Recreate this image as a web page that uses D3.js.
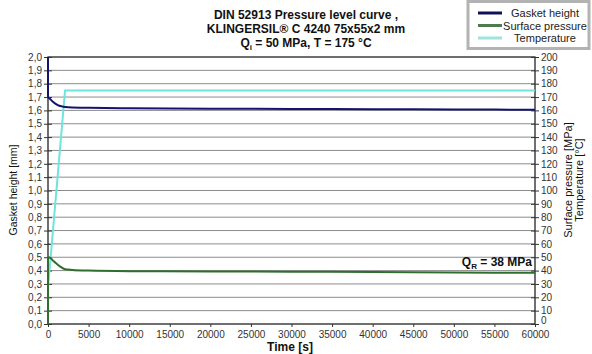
<!DOCTYPE html>
<html lang="en">
<head>
<meta charset="utf-8">
<title>DIN 52913 Pressure level curve</title>
<script src="https://d3js.org/d3.v7.min.js"></script>
<style>
  body { margin: 0; background: #fff; font-family: 'Liberation Sans', Arial, sans-serif; }
  svg { display: block; }
  .tick text { font-size: 10px; fill: #333; }
  .grid line { stroke: #8c8c8c; stroke-width: 1; }
  .title { font-size: 12px; font-weight: bold; fill: #111; }
  .label { font-size: 10.5px; fill: #111; }
  .legend text { font-size: 11px; fill: #222; }
</style>
</head>
<body>
<svg width="592" height="354"></svg>
<script>
// gasket height [mm]
const gasketTime = [0, 0, 200, 600, 1200, 1700, 2100, 3000, 5000, 10000, 20000, 30000, 40000, 50000, 60000];
const gasketHeight = [2.0, 1.70, 1.69, 1.665, 1.64, 1.63, 1.625, 1.621, 1.619, 1.616, 1.613, 1.611, 1.609, 1.607, 1.605];

// surface pressure [MPa]
const pressureTime = [0, 0, 300, 600, 1000, 1500, 2100, 3000, 5000, 10000, 20000, 30000, 40000, 50000, 60000];
const pressure = [0, 50, 49.5, 47.5, 45.5, 43, 41, 40.5, 40, 39.6, 39.4, 39.2, 38.9, 38.6, 38.3];

// temperature [°C]
const tempTime = [0, 2100, 60000];
const temperature = [27, 175, 175];

const timeTicks = d3.range(0, 60001, 5000);
const leftTicks = d3.range(0, 21).map(d => d / 10);
const rightTicks = d3.range(0, 201, 10);
const legendNames = ['Gasket height', 'Surface pressure', 'Temperature'];
const colors = ['#14146e', '#2f6e2f', '#6fe3dc'];
const legendColors = ['#10105a', '#4e7a4e', '#9fe3dd'];

const svg = d3.select('svg');
const L = 48, R = 535, T = 57, B = 324;

const x = d3.scaleLinear().domain([0, 60000]).range([L, R]);
const yL = d3.scaleLinear().domain([0, 2]).range([B, T]);
const yR = d3.scaleLinear().domain([0, 200]).range([B, T]);

// horizontal grid
svg.append('g').attr('class', 'grid')
  .selectAll('line').data(leftTicks.slice(1, -1)).enter().append('line')
  .attr('x1', L).attr('x2', R)
  .attr('y1', d => yL(d)).attr('y2', d => yL(d));

// plot frame
svg.append('rect')
  .attr('x', L).attr('y', T).attr('width', R - L).attr('height', B - T)
  .attr('fill', 'none').attr('stroke', '#222').attr('stroke-width', 1.3);

const fmt = d => d.toFixed(1).replace('.', ',');

// left axis
const gl = svg.append('g').attr('transform', `translate(${L},0)`)
  .call(d3.axisLeft(yL).tickValues(leftTicks).tickFormat(fmt).tickSize(4).tickPadding(2));
gl.select('.domain').remove();
gl.selectAll('.tick line').attr('x2', 4).attr('x1', -4).attr('stroke', '#333');

// right axis
const gr = svg.append('g').attr('transform', `translate(${R},0)`)
  .call(d3.axisRight(yR).tickValues(rightTicks).tickSize(4).tickPadding(2));
gr.select('.domain').remove();
gr.selectAll('.tick line').attr('x1', -4).attr('x2', 4).attr('stroke', '#333');
// lift the bottom "0" a little so it clears the 60000 label
gr.selectAll('.tick text').filter(d => d === 0).attr('dy', '-0.05em');

// bottom axis
const gb = svg.append('g').attr('transform', `translate(0,${B})`)
  .call(d3.axisBottom(x).tickValues(timeTicks).tickFormat(d3.format('d')).tickSize(3).tickPadding(4));
gb.select('.domain').remove();
gb.selectAll('.tick line').attr('y1', 0).attr('y2', 3).attr('stroke', '#333');

// series
const lineL = d3.line().x(d => x(d[0])).y(d => yL(d[1]));
const lineR = d3.line().x(d => x(d[0])).y(d => yR(d[1]));

svg.append('path')
  .datum(tempTime.map((t, i) => [t, temperature[i]]))
  .attr('d', lineR).attr('fill', 'none').attr('stroke', colors[2]).attr('stroke-width', 2);

svg.append('path')
  .datum(pressureTime.map((t, i) => [t, pressure[i]]))
  .attr('d', lineR.curve(d3.curveMonotoneX)).attr('fill', 'none').attr('stroke', colors[1]).attr('stroke-width', 2);

svg.append('path')
  .datum(gasketTime.map((t, i) => [t, gasketHeight[i]]))
  .attr('d', lineL.curve(d3.curveMonotoneX)).attr('fill', 'none').attr('stroke', colors[0]).attr('stroke-width', 2);

// Q_R annotation
const qr = svg.append('text').attr('class', 'title')
  .attr('x', x(60000) - 3).attr('y', 266).attr('text-anchor', 'end');
qr.append('tspan').text('Q');
qr.append('tspan').attr('dy', 3).attr('font-size', 8).text('R');
qr.append('tspan').attr('dy', -3).text(' = 38 MPa');

// title
const title = svg.append('g').attr('class', 'title').attr('text-anchor', 'middle');
title.append('text').attr('class', 'title').attr('x', 306).attr('y', 19).text('DIN 52913 Pressure level curve ,');
title.append('text').attr('class', 'title').attr('x', 306).attr('y', 33).text('KLINGERSIL® C 4240 75x55x2 mm');
const t3 = title.append('text').attr('class', 'title').attr('x', 306).attr('y', 47);
t3.append('tspan').text('Q');
t3.append('tspan').attr('dy', 3).attr('font-size', 8).text('i');
t3.append('tspan').attr('dy', -3).text(' = 50 MPa, T = 175 °C');

// axis labels
svg.append('text').attr('class', 'label')
  .attr('transform', `translate(17,190) rotate(-90)`)
  .attr('text-anchor', 'middle').text('Gasket height [mm]');
svg.append('text').attr('class', 'label').style('font-size', '11px')
  .attr('transform', `translate(572,180) rotate(-90)`)
  .attr('text-anchor', 'middle').text('Surface pressure [MPa]');
svg.append('text').attr('class', 'label').style('font-size', '11px')
  .attr('transform', `translate(583,180) rotate(-90)`)
  .attr('text-anchor', 'middle').text('Temperature [°C]');
svg.append('text').attr('class', 'title')
  .attr('x', 290).attr('y', 351).attr('text-anchor', 'middle').text('Time [s]');

// legend
const lg = svg.append('g').attr('class', 'legend');
lg.append('rect').attr('x', 468).attr('y', 1.5).attr('width', 121).attr('height', 47)
  .attr('fill', '#fff').attr('stroke', '#b3b3b3').attr('stroke-width', 3);
legendNames.forEach((n, i) => {
  const yy = 13 + i * 12.5;
  lg.append('line').attr('x1', 478).attr('x2', 502).attr('y1', yy).attr('y2', yy)
    .attr('stroke', legendColors[i]).attr('stroke-width', 3);
  lg.append('text').attr('x', 545).attr('y', yy + 4).attr('text-anchor', 'middle').text(n);
});
</script>
</body>
</html>
